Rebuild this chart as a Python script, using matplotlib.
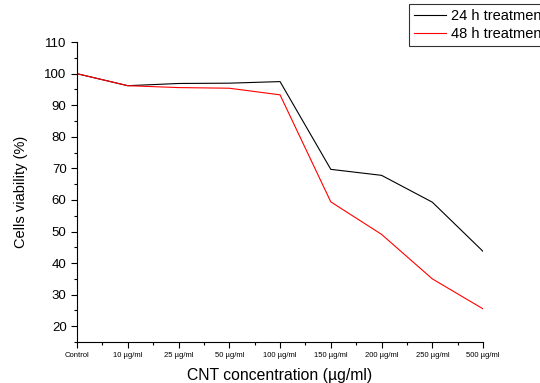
import numpy as np
import matplotlib.pyplot as plt
from matplotlib.ticker import MultipleLocator

categories = ['Control', '10 µg/ml', '25 µg/ml', '50 µg/ml', '100 µg/ml',
              '150 µg/ml', '200 µg/ml', '250 µg/ml', '500 µg/ml']
h24 = [100, 96.2, 96.9, 97.0, 97.5, 69.7, 67.8, 59.3, 43.7]
h48 = [100, 96.2, 95.6, 95.4, 93.3, 59.4, 49.1, 35.0, 25.5]

plt.rcParams['font.family'] = ['Liberation Sans', 'DejaVu Sans']
fig = plt.figure(figsize=(5.4, 3.83), dpi=100)
ax = fig.add_axes([0.1426, 0.107, 0.752, 0.783])
x = np.arange(len(categories))
ax.plot(x, h24, color='black', lw=0.8, label='24 h treatment')
ax.plot(x, h48, color='red', lw=0.8, label='48 h treatment')

ax.set_xlim(0, 8)
ax.set_ylim(15, 110)
ax.set_xticks(x)
ax.set_xticklabels(categories, fontsize=5.5)
ax.xaxis.set_minor_locator(MultipleLocator(0.5))
ax.yaxis.set_minor_locator(MultipleLocator(5))
ax.set_yticks(np.arange(20, 111, 10))
ax.tick_params(axis='y', labelsize=9.5)
ax.tick_params(which='major', length=4, width=0.8)
ax.tick_params(which='minor', length=2, width=0.8)
ax.spines['top'].set_visible(False)
ax.spines['right'].set_visible(False)
ax.set_xlabel('CNT concentration (µg/ml)', fontsize=11.3, labelpad=6)
ax.set_ylabel('Cells viability (%)', fontsize=10.5, labelpad=12)

leg = fig.legend(loc='upper left', bbox_to_anchor=(0.757, 0.99), fontsize=10.5,
                 frameon=True, fancybox=False, handlelength=2.2, handletextpad=0.35,
                 borderaxespad=0, labelspacing=0.3, borderpad=0.35)
leg.get_frame().set_edgecolor('black')
leg.get_frame().set_linewidth(0.8)

plt.savefig('out.png', dpi=100)
